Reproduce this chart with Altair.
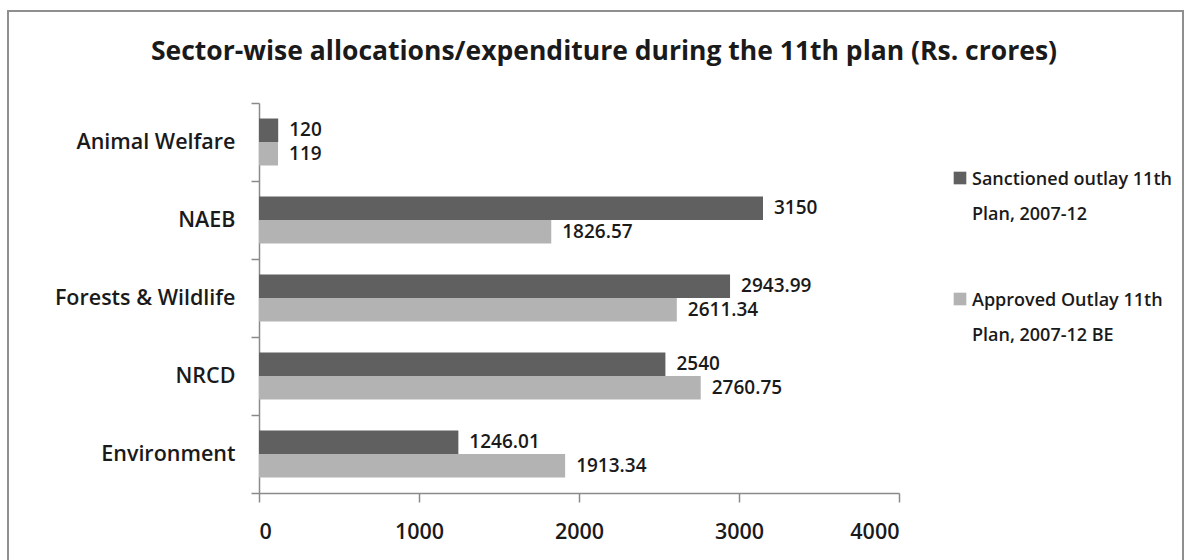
import altair as alt
import pandas as pd

categories = ["Animal Welfare", "NAEB", "Forests & Wildlife", "NRCD", "Environment"]
sanctioned = [120, 3150, 2943.99, 2540, 1246.01]
approved = [119, 1826.57, 2611.34, 2760.75, 1913.34]
series = ["Sanctioned outlay 11th Plan, 2007-12", "Approved Outlay 11th Plan, 2007-12 BE"]
series_lines = [["Sanctioned outlay 11th", "Plan, 2007-12"], ["Approved Outlay 11th", "Plan, 2007-12 BE"]]
colors = ["#606060", "#b3b3b3"]
x_ticks = [0, 1000, 2000, 3000, 4000]
title = "Sector-wise allocations/expenditure during the 11th plan (Rs. crores)"

rows = []
for c, s, a in zip(categories, sanctioned, approved):
    rows.append({"category": c, "series": series[0], "value": s, "label": f"{s:g}"})
    rows.append({"category": c, "series": series[1], "value": a, "label": f"{a:g}"})
df = pd.DataFrame(rows)

FONT = "Open Sans"
FS = 21.5
FW = 600
W, H = 640, 390
L, T = 259, 103

y_enc = alt.Y("category:N", sort=categories,
              scale=alt.Scale(paddingInner=0, paddingOuter=0),
              axis=alt.Axis(title=None, domainColor="#8a8a8a", tickColor="#8a8a8a",
                            tickSize=8, tickBand="extent", labelPadding=16, labelLimit=0,
                            labelFont=FONT, labelFontSize=FS, labelFontWeight=FW,
                            labelColor="#1a1a1a", domainWidth=1.5, tickWidth=1.5))
yoff_enc = alt.YOffset("series:N", sort=series,
                       scale=alt.Scale(paddingInner=0, paddingOuter=0.66))
x_enc = alt.X("value:Q", scale=alt.Scale(domain=[0, 4000], nice=False),
              axis=alt.Axis(title=None, values=x_ticks, grid=False, format="d",
                            domainColor="#8a8a8a", tickColor="#8a8a8a", tickSize=9,
                            labelPadding=19, labelFont=FONT, labelFontSize=FS,
                            labelFontWeight=FW, labelColor="#1a1a1a",
                            domainWidth=1.5, tickWidth=1.5))
color_enc = alt.Color("series:N", scale=alt.Scale(domain=series, range=colors), legend=None)

base = alt.Chart(df)
bars = base.mark_bar().encode(y=y_enc, yOffset=yoff_enc, x=x_enc, color=color_enc)
labels = base.mark_text(align="left", baseline="middle", dx=11, font=FONT,
                        fontSize=19, fontWeight=FW, color="#1a1a1a").encode(
    y=alt.Y("category:N", sort=categories), yOffset=alt.YOffset("series:N", sort=series),
    x="value:Q", text="label:N")

one = pd.DataFrame({"title": [title]})
frame = alt.Chart(one).mark_rect(filled=False, stroke="#8f8f8f", strokeWidth=2).encode(
    x=alt.value(8 - L), x2=alt.value(1183 - L), y=alt.value(11 - T), y2=alt.value(600 - T))
title_mark = alt.Chart(one).mark_text(align="center", baseline="alphabetic", font=FONT,
                                      fontSize=26.5, fontWeight="bold", color="#1a1a1a").encode(
    x=alt.value(604 - L), y=alt.value(60 - T), text="title:N")

leg_layers = []
leg_y = [178, 299]
for name, lines, yy in zip(series, series_lines, leg_y):
    d = pd.DataFrame({"series": [name]})
    sq = alt.Chart(d).mark_square(size=160, opacity=1).encode(
        x=alt.value(960 - L), y=alt.value(yy - T), color=color_enc)
    tx = alt.Chart(d).mark_text(align="left", baseline="alphabetic", font=FONT,
                                fontSize=18, fontWeight=FW, color="#1a1a1a",
                                lineHeight=35).encode(
        x=alt.value(972 - L), y=alt.value(yy + 7 - T), text=alt.value(lines))
    leg_layers += [sq, tx]

chart = alt.layer(frame, title_mark, bars, labels, *leg_layers).properties(
    width=W, height=H,
    autosize=alt.AutoSizeParams(type="none"),
    padding={"left": L, "top": T, "right": 1190 - L - W, "bottom": 560 - T - H},
).configure(background="white").configure_view(stroke=None)

chart.save("out.html", embed_options={"renderer": "svg", "actions": False})
